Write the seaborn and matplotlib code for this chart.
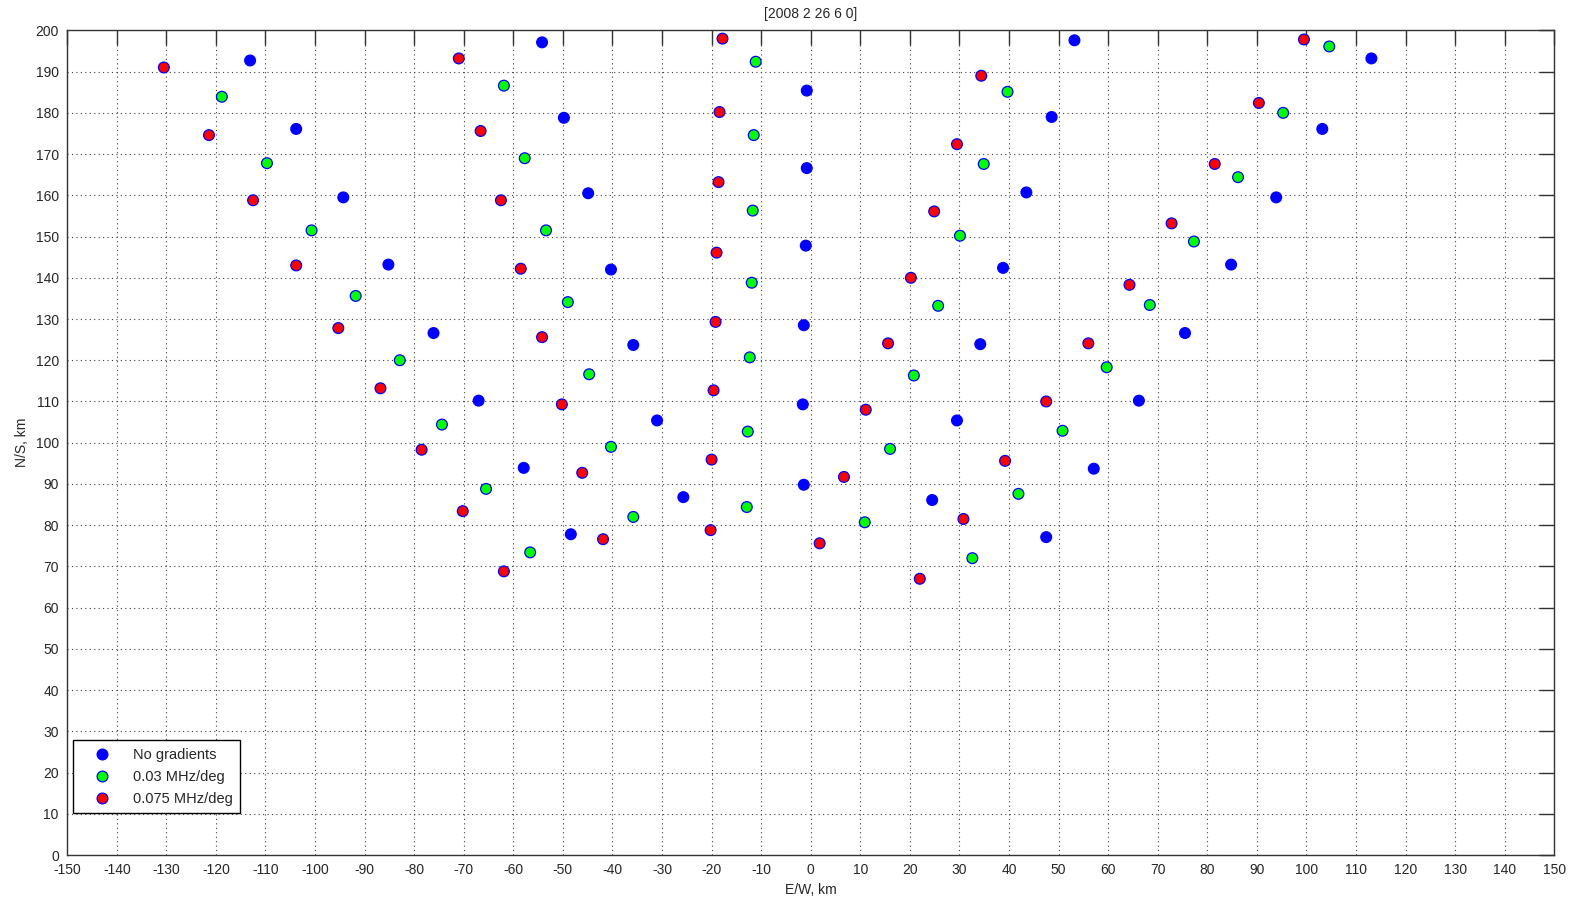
import matplotlib
matplotlib.use("Agg")
import matplotlib.pyplot as plt
import seaborn as sns
import pandas as pd
import numpy as np

series_names = ["No gradients", "0.03 MHz/deg", "0.075 MHz/deg"]

blue_x = [-113.1, -103.8, -94.3, -85.2, -76.1, -67.0, -57.9, -48.4,
          -54.2, -49.8, -44.9, -40.3, -35.8, -31.0, -25.7,
          -0.8, -0.8, -1.0, -1.4, -1.6, -1.4,
          53.2, 48.6, 43.5, 38.8, 34.2, 29.5, 24.5,
          113.1, 103.2, 93.9, 84.8, 75.5, 66.2, 57.1, 47.5]
blue_y = [192.7, 176.1, 159.5, 143.2, 126.6, 110.2, 93.9, 77.8,
          197.1, 178.8, 160.5, 142.0, 123.7, 105.4, 86.8,
          185.4, 166.6, 147.8, 128.5, 109.3, 89.8,
          197.6, 179.0, 160.7, 142.4, 123.9, 105.4, 86.1,
          193.2, 176.1, 159.5, 143.2, 126.6, 110.2, 93.7, 77.1]

green_x = [-118.8, -109.7, -100.7, -91.8, -82.9, -74.4, -65.5, -56.6,
           -61.9, -57.7, -53.4, -49.0, -44.7, -40.3, -35.8,
           -11.1, -11.5, -11.7, -11.9, -12.3, -12.7, -12.9,
           10.9, 16.0, 20.8, 25.7, 30.1, 34.9, 39.7,
           32.6, 41.9, 50.8, 59.7, 68.4, 77.3, 86.2, 95.3, 104.6]
green_y = [183.9, 167.8, 151.5, 135.6, 120.0, 104.4, 88.8, 73.4,
           186.6, 169.0, 151.5, 134.1, 116.6, 99.0, 82.0,
           192.4, 174.6, 156.3, 138.8, 120.7, 102.7, 84.4,
           80.7, 98.5, 116.3, 133.2, 150.2, 167.6, 185.1,
           72.0, 87.6, 102.9, 118.3, 133.4, 148.8, 164.4, 180.0, 196.1]

red_x = [-130.5, -121.4, -112.5, -103.8, -95.3, -86.8, -78.5, -70.2, -61.9,
         -71.0, -66.6, -62.5, -58.5, -54.2, -50.2, -46.1, -41.9,
         -17.8, -18.4, -18.6, -19.0, -19.2, -19.6, -20.0, -20.2,
         34.4, 29.5, 24.9, 20.2, 15.6, 11.1, 6.7, 1.8,
         22.0, 30.8, 39.2, 47.5, 56.0, 64.3, 72.8, 81.5, 90.4, 99.5]
red_y = [191.0, 174.6, 158.8, 143.0, 127.8, 113.2, 98.3, 83.4, 68.8,
         193.2, 175.6, 158.8, 142.2, 125.6, 109.3, 92.7, 76.6,
         198.0, 180.2, 163.2, 146.1, 129.3, 112.7, 95.9, 78.8,
         189.0, 172.4, 156.1, 140.0, 124.1, 108.0, 91.7, 75.6,
         67.0, 81.5, 95.6, 110.0, 124.1, 138.3, 153.2, 167.6, 182.4, 197.8]

x_ticks = list(range(-150, 151, 10))
y_ticks = list(range(0, 201, 10))
title_text = "[2008 2 26 6 0]"

df = pd.concat([
    pd.DataFrame({"x": blue_x, "y": blue_y, "series": series_names[0]}),
    pd.DataFrame({"x": green_x, "y": green_y, "series": series_names[1]}),
    pd.DataFrame({"x": red_x, "y": red_y, "series": series_names[2]}),
], ignore_index=True)

sns.set_style("white")
plt.rcParams["font.family"] = ["Liberation Sans", "DejaVu Sans"]
plt.rcParams["axes.unicode_minus"] = False

fig = plt.figure(figsize=(15.77, 8.99), dpi=100)
ax = fig.add_axes([0.0426, 0.0489, 0.9430, 0.9173])

palette = {series_names[0]: "#0000ff", series_names[1]: "#00ff00", series_names[2]: "#ff0000"}
sns.scatterplot(data=df, x="x", y="y", hue="series", hue_order=series_names,
                palette=palette, edgecolor="#0000ff", linewidth=0.9, s=60,
                ax=ax, zorder=3)

ax.set_xlim(-150, 150)
ax.set_ylim(0, 200)
ax.set_xticks(x_ticks)
ax.set_yticks(y_ticks)
ax.grid(True, color="0.25", linestyle=(0, (1, 3)), linewidth=0.8)
ax.tick_params(direction="in", length=11, width=1, color="0.2",
               top=True, right=True, labelsize=10, pad=6)
for sp in ax.spines.values():
    sp.set_color("0.2")
    sp.set_linewidth(1.0)

ax.set_xlabel("E/W, km", fontsize=10, labelpad=4)
ax.set_ylabel("N/S, km", fontsize=10, labelpad=5)
ax.set_title(title_text, fontsize=10, pad=9)

leg = ax.legend(loc="lower left", bbox_to_anchor=(0.004, 0.051), borderaxespad=0,
                frameon=True, fancybox=False, framealpha=1, edgecolor="black",
                fontsize=10.5, handletextpad=0.6, borderpad=0.5, labelspacing=0.55,
                handlelength=3.0)
leg.get_frame().set_linewidth(1.0)

fig.savefig("out.png", dpi=100)
